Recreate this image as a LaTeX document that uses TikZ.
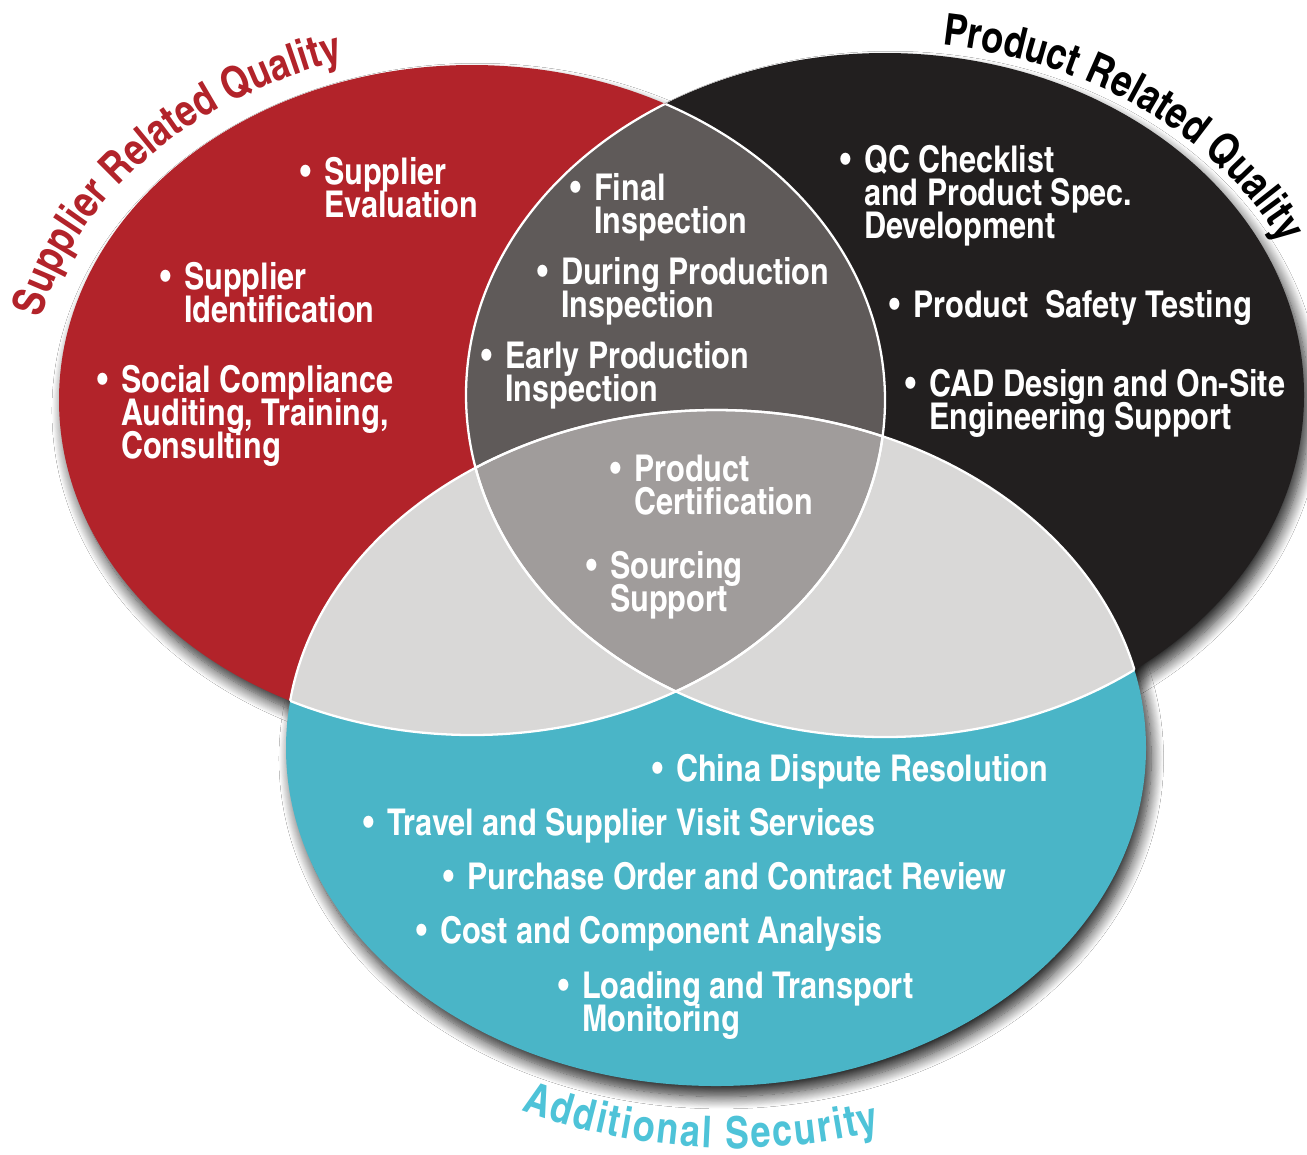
\documentclass[tikz,border=0pt]{standalone}
\usepackage{fontspec}
\setmainfont{TeX Gyre Heros Cn}[FakeStretch=1.01]
\newfontfamily\titlefam{TeX Gyre Heros Cn}
\usepackage{xcolor}
\usetikzlibrary{decorations.text, shadows.blur}

\definecolor{suppred}{HTML}{B2232A}
\definecolor{prodblack}{HTML}{221F1F}
\definecolor{secteal}{HTML}{4AB5C7}
\definecolor{secttl}{HTML}{4EC3D8}
\definecolor{ovdark}{HTML}{5F5A59}
\definecolor{ovmid}{HTML}{A09C9B}
\definecolor{ovlight}{HTML}{D9D8D7}

\newcommand{\itemfont}{\fontsize{21}{19}\selectfont\bfseries}
\newcommand{\titlefont}{\titlefam\fontsize{25}{25}\selectfont\bfseries}
\newcommand{\bul}[1]{\makebox[13.6pt][l]{\textbullet}\vtop{\baselineskip=19pt\lineskiplimit=-30pt\halign{##\hfil\cr#1\crcr}}}

% the three ellipses (pixel units, y downwards)
\def\suppell{(472,400) ellipse [x radius=413, y radius=335]}
\def\prodell{(885,395) ellipse [x radius=419, y radius=342]}
\def\secell{(716,748) ellipse [x radius=430, y radius=338]}

\begin{document}
\begin{tikzpicture}[x=0.02cm, y=-0.02cm,
    itm/.style={anchor=base west, inner sep=0pt, text=white, font=\itemfont},
    sep/.style={draw=white, line width=1.3pt},
    shd/.style={blur shadow={shadow xshift=3pt, shadow yshift=-6pt, shadow blur radius=7pt, shadow blur steps=14, shadow opacity=85}},
    ttl/.style n args={3}{decorate, decoration={text along path, text align=#1, text color=#2, text={|\titlefont|#3}}}]
    \path[use as bounding box, fill=white] (0,0) rectangle (1307,1154);

    % Drop shadows
    \path[shd] \suppell;
    \path[shd] \prodell;
    \path[shd] \secell;

    % Base fills
    \fill[suppred] \suppell;
    \fill[prodblack] \prodell;
    \fill[secteal] \secell;

    % Overlaps
    \begin{scope}
        \clip \suppell;
        \fill[ovdark] \prodell;
        \fill[ovlight] \secell;
    \end{scope}
    \begin{scope}
        \clip \prodell;
        \fill[ovlight] \secell;
    \end{scope}
    \begin{scope}
        \clip \suppell;
        \clip \prodell;
        \fill[ovmid] \secell;
    \end{scope}

    % White separators inside the overlaps
    \begin{scope}
        \clip \suppell;
        \draw[sep] \prodell \secell;
    \end{scope}
    \begin{scope}
        \clip \prodell;
        \draw[sep] \suppell \secell;
    \end{scope}
    \begin{scope}
        \clip \secell;
        \draw[sep] \suppell \prodell;
    \end{scope}

    % Titles along the rims
    \path[ttl={center}{suppred}{Supplier Related Quality}]
        ([shift={(-174:443 and 355)}]472,400) arc[start angle=-174, end angle=-101, x radius=443, y radius=355];
    \path[ttl={center}{black}{Product Related Quality}]
        ([shift={(-89:438.7 and 353.1)}]885,395) arc[start angle=-89, end angle=-17.5, x radius=438.7, y radius=353.1];
    \path[ttl={fit to path}{secttl}{Additional Security}]
        ([shift={(110.1:622)}]735,526) arc[start angle=110.1, end angle=76.5, radius=622];

    % Supplier related quality
    \node[itm] (evaluation) at (300,184) {\bul{Supplier\cr Evaluation}};
    \node[itm] (identification) at (160,289) {\bul{Supplier\cr Identification}};
    \node[itm] (compliance) at (97,392) {\bul{Social Compliance\cr Auditing, Training,\cr Consulting}};

    % Inspections (red and black overlap)
    \node[itm] (final) at (570,200) {\bul{Final\cr Inspection}};
    \node[itm] (during) at (537,284) {\bul{During Production\cr Inspection}};
    \node[itm] (early) at (481,368) {\bul{Early Production\cr Inspection}};

    % Product related quality
    \node[itm] (checklist) at (840,172) {\bul{QC Checklist\cr and Product Spec.\cr Development}};
    \node[itm] (safety) at (889,317) {\bul{Product~~Safety Testing}};
    \node[itm] (cad) at (905,396) {\bul{CAD Design and On-Site\cr Engineering Support}};

    % Centre
    \node[itm] (certification) at (610,481) {\bul{Product\cr Certification}};
    \node[itm] (sourcing) at (586,578) {\bul{Sourcing\cr Support}};

    % Additional security
    \node[itm] (dispute) at (652,781) {\bul{China Dispute Resolution}};
    \node[itm] (travel) at (363,835) {\bul{Travel and Supplier Visit Services}};
    \node[itm] (purchase) at (443,889) {\bul{Purchase Order and Contract Review}};
    \node[itm] (cost) at (416,943) {\bul{Cost and Component Analysis}};
    \node[itm] (loading) at (558,998) {\bul{Loading and Transport\cr Monitoring}};
\end{tikzpicture}
\end{document}
